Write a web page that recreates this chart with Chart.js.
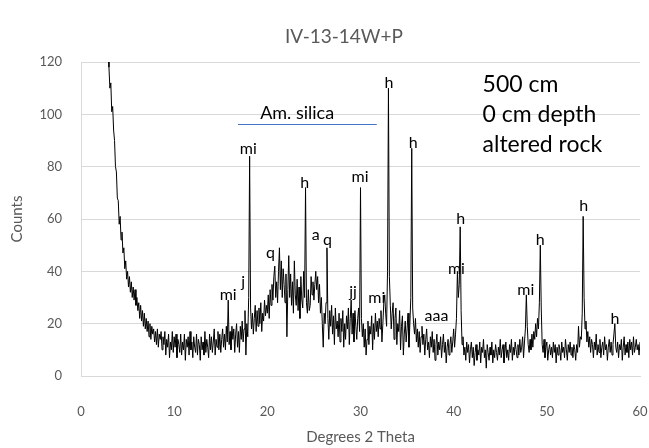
<!DOCTYPE html>
<html>
<head>
<meta charset="utf-8">
<title>IV-13-14W+P</title>
<script src="https://cdn.jsdelivr.net/npm/chart.js@4.4.1/dist/chart.umd.min.js"></script>
<style>
    html, body { margin: 0; padding: 0; background: #ffffff; }
    #xrdChart { display: block; }
</style>
</head>
<body>
<canvas id="xrdChart" width="649" height="448"></canvas>
<script>
// scan grid (degrees 2 theta)
const startAngle = 2.9;
const angleStep = 0.1;

// counts, one row per degree (x.0 .. x.9)
const counts = [
    126,
    118, 110, 112, 101, 103, 94, 90, 80, 78, 68,
    67, 58, 61, 52, 55, 47, 49, 41, 44, 37,
    40, 34, 38, 32, 36, 30, 34, 29, 33, 27,
    30, 25, 28, 22, 27, 21, 25, 19, 24, 18,
    22, 17, 21, 15, 20, 14, 19, 16, 18, 13,
    17, 12, 18, 11, 16, 14, 17, 10, 15, 12,
    17, 8, 14, 11, 16, 7, 13, 10, 17, 9,
    15, 11, 16, 7, 14, 12, 9, 16, 8, 13,
    10, 16, 6, 14, 11, 15, 8, 17, 10, 13,
    7, 15, 11, 9, 16, 8, 14, 12, 6, 15,
    10, 13, 8, 17, 9, 14, 11, 7, 16, 10,
    15, 9, 13, 18, 8, 14, 11, 17, 10, 16,
    9, 14, 18, 11, 16, 10, 19, 13, 29, 12,
    17, 10, 19, 14, 18, 9, 16, 20, 11, 17,
    9, 19, 14, 21, 13, 18, 25, 8, 20, 15,
    30, 84, 26, 18, 24, 16, 22, 27, 17, 25,
    19, 26, 20, 28, 17, 24, 21, 29, 23, 27,
    24, 31, 22, 33, 27, 35, 29, 38, 42, 30,
    36, 28, 40, 49, 33, 44, 30, 41, 35, 28,
    39, 15, 33, 46, 30, 39, 27, 36, 24, 44,
    31, 27, 37, 25, 34, 22, 38, 29, 26, 40,
    30, 72, 28, 24, 33, 25, 27, 38, 31, 36,
    29, 35, 40, 33, 38, 28, 35, 24, 30, 20,
    11, 24, 20, 28, 49, 22, 14, 25, 19, 27,
    16, 23, 12, 26, 18, 21, 15, 24, 13, 22,
    17, 25, 11, 20, 14, 23, 18, 26, 12, 22,
    29, 16, 24, 13, 25, 19, 14, 22, 26, 17,
    72, 22, 15, 20, 11, 18, 8, 14, 21, 12,
    19, 16, 23, 10, 20, 14, 24, 17, 21, 15,
    22, 18, 25, 13, 20, 28, 31, 24, 19, 40,
    110, 38, 27, 18, 24, 28, 14, 22, 26, 12,
    20, 17, 25, 10, 19, 23, 8, 16, 21, 13,
    18, 24, 11, 20, 30, 87, 26, 20, 16, 22,
    13, 18, 11, 17, 9, 15, 19, 12, 16, 8,
    14, 18, 10, 13, 7, 15, 11, 17, 9, 14,
    6, 12, 16, 8, 13, 10, 15, 7, 12, 16,
    9, 13, 5, 11, 14, 8, 12, 15, 9, 13,
    18, 11, 16, 22, 40, 30, 35, 57, 25, 12,
    15, 8, 11, 6, 13, 9, 12, 5, 10, 13,
    7, 11, 4, 9, 12, 6, 10, 8, 13, 5,
    11, 9, 14, 7, 10, 3, 12, 9, 6, 11,
    8, 13, 5, 10, 7, 12, 9, 6, 11, 8,
    14, 7, 10, 12, 5, 9, 13, 7, 10, 6,
    12, 9, 14, 6, 11, 8, 13, 10, 7, 12,
    8, 14, 9, 11, 15, 7, 13, 18, 31, 19,
    12, 9, 14, 10, 16, 11, 17, 14, 20, 15,
    22, 18, 28, 50, 26, 12, 9, 14, 7, 11,
    13, 6, 10, 12, 8, 11, 7, 13, 9, 12,
    5, 11, 8, 12, 10, 6, 13, 9, 11, 7,
    14, 10, 6, 12, 9, 13, 8, 11, 7, 12,
    10, 6, 12, 9, 19, 11, 15, 14, 24, 61,
    30, 18, 21, 13, 17, 11, 15, 9, 14, 12,
    7, 13, 10, 16, 8, 12, 9, 14, 7, 11,
    13, 8, 15, 10, 12, 6, 11, 14, 9, 13,
    8, 12, 16, 20, 11, 9, 13, 7, 12, 10,
    14, 6, 11, 15, 8, 12, 9, 13, 7, 14,
    10, 13, 8, 15, 9, 11, 14, 10, 12, 8,
    13
];

// phase labels written over the peaks
const peakNames  = ["mi", "j", "mi", "q", "h", "a", "q", "jj", "mi", "mi", "h", "h", "aaa", "h", "mi", "mi", "h", "h", "h"];
const peakAngles = [15.8, 17.4, 17.95, 20.35, 24.0, 25.2, 26.45, 29.2, 29.95, 31.75, 33.05, 35.65, 38.15, 40.75, 40.3, 47.75, 49.3, 53.95, 57.3];
const peakCounts = [31, 36, 87, 47, 74, 54, 52, 32, 76, 30, 112, 89, 23, 60, 41, 33, 52, 65, 22];

// amorphous silica hump
const silicaLabel = "Am. silica";
const silicaFrom = 16.85;
const silicaTo = 31.75;
const silicaLevel = 96.3;
const silicaLabelAngle = 23.2;

// sample note
const chartTitle = "IV-13-14W+P";
const sampleNotes = ["500 cm", "0 cm depth", "altered rock"];
const notesAngle = 43.1;
const notesTopCount = 108.5;

const xMin = 0, xMax = 60, xStep = 10;
const yMin = 0, yMax = 120, yStep = 20;

const points = counts.map((c, i) => ({ x: +(startAngle + i * angleStep).toFixed(1), y: c }));

const grey = "#595959";
const fontFamily = "Lato, 'Open Sans', sans-serif";

const notesPlugin = {
    id: "xrdNotes",
    afterDraw(chart) {
        const ctx = chart.ctx;
        const x = chart.scales.x;
        const y = chart.scales.y;
        ctx.save();

        // title, centred like the original sheet
        ctx.fillStyle = grey;
        ctx.textAlign = "center";
        ctx.textBaseline = "middle";
        ctx.font = "19px " + fontFamily;
        ctx.fillText(chartTitle, 344, 37);

        // peak labels
        ctx.fillStyle = "#000";
        ctx.font = "16px " + fontFamily;
        peakNames.forEach((name, i) => {
            ctx.fillText(name, x.getPixelForValue(peakAngles[i]), y.getPixelForValue(peakCounts[i]));
        });

        // silica bar
        const ly = Math.round(y.getPixelForValue(silicaLevel)) + 0.5;
        ctx.strokeStyle = "#4472c4";
        ctx.lineWidth = 1;
        ctx.beginPath();
        ctx.moveTo(x.getPixelForValue(silicaFrom), ly);
        ctx.lineTo(x.getPixelForValue(silicaTo), ly);
        ctx.stroke();
        ctx.font = "18px " + fontFamily;
        ctx.textBaseline = "alphabetic";
        ctx.fillText(silicaLabel, x.getPixelForValue(silicaLabelAngle), ly - 6);

        // note box text
        ctx.textAlign = "left";
        ctx.font = "23px " + fontFamily;
        const top = y.getPixelForValue(notesTopCount);
        sampleNotes.forEach((line, i) => {
            ctx.fillText(line, x.getPixelForValue(notesAngle), top + i * 30);
        });

        ctx.restore();
    }
};

new Chart(document.getElementById("xrdChart"), {
    type: "line",
    data: {
        datasets: [{
            label: chartTitle,
            data: points,
            borderColor: "#000000",
            borderWidth: 1,
            pointRadius: 0,
            tension: 0,
            fill: false
        }]
    },
    options: {
        responsive: false,
        animation: false,
        events: [],
        layout: { padding: { left: 0, right: 9, top: 62, bottom: 0 } },
        plugins: {
            legend: { display: false },
            tooltip: { enabled: false },
            title: { display: false }
        },
        scales: {
            x: {
                type: "linear",
                min: xMin,
                max: xMax,
                grid: { display: false },
                border: { display: true, color: "#d9d9d9" },
                ticks: {
                    stepSize: xStep,
                    color: grey,
                    font: { family: fontFamily, size: 13 },
                    padding: 20,
                    maxRotation: 0
                },
                title: {
                    display: true,
                    text: "Degrees 2 Theta",
                    color: grey,
                    font: { family: fontFamily, size: 15 },
                    padding: { top: 0, bottom: 2 }
                },
                afterFit: (s) => {
                    s.height = 72;
                    s.paddingLeft = 0;
                    s.paddingRight = 0;
                }
            },
            y: {
                min: yMin,
                max: yMax,
                grid: { color: "#d9d9d9", drawTicks: false },
                border: { display: true, color: "#d9d9d9" },
                ticks: {
                    stepSize: yStep,
                    color: grey,
                    font: { family: fontFamily, size: 13 },
                    padding: 19
                },
                title: {
                    display: true,
                    text: "Counts",
                    color: grey,
                    font: { family: fontFamily, size: 15 },
                    padding: { top: 8, bottom: 0 }
                },
                afterFit: (s) => {
                    s.width = 81;
                    s.paddingTop = 0;
                    s.paddingBottom = 0;
                }
            }
        }
    },
    plugins: [notesPlugin]
});
</script>
</body>
</html>
